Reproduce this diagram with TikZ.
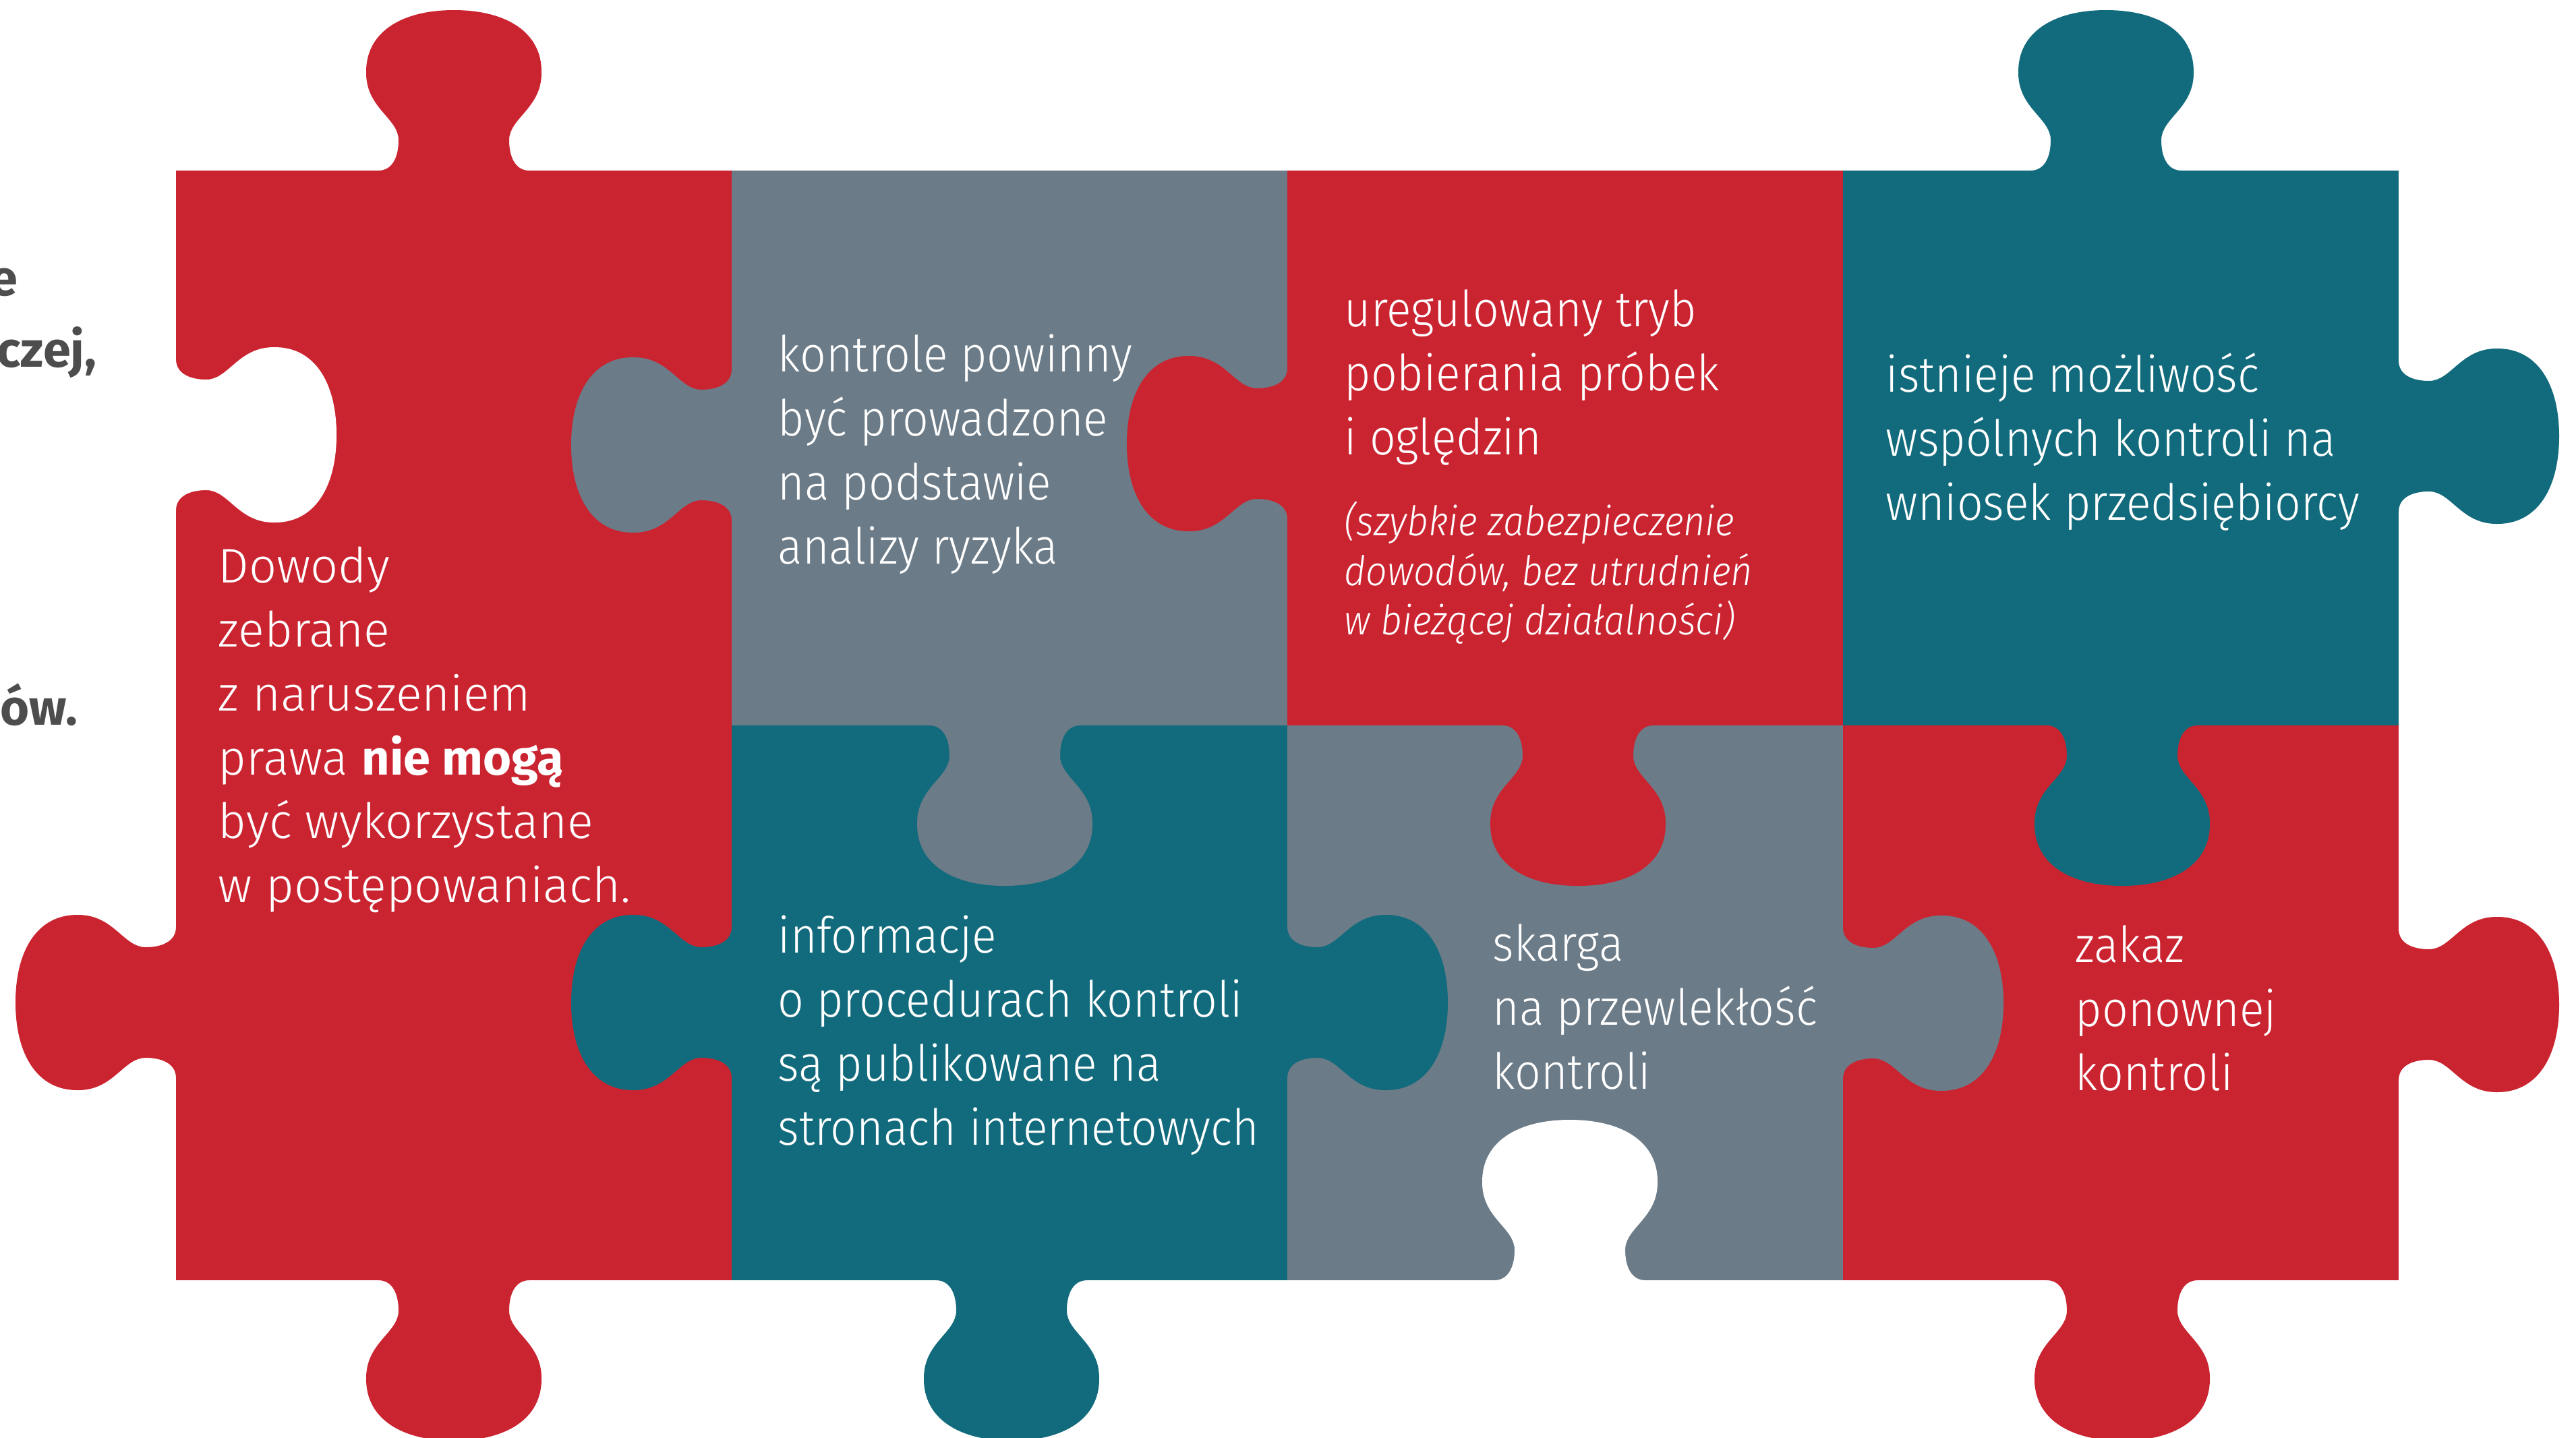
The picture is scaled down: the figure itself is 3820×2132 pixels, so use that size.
\documentclass[tikz,border=0pt]{standalone}
\usepackage{fontspec}
\setmainfont{Fira Sans}[UprightFont=* Light, ItalicFont=* Light Italic, BoldFont=* Bold]
\newfontfamily\narrowfont{Fira Sans}[UprightFont=* Light, ItalicFont=* Light Italic, FakeStretch=0.92]
\definecolor{puzred}{HTML}{CB2431}
\definecolor{puzgray}{HTML}{6B7B87}
\definecolor{puzteal}{HTML}{126B7C}
\definecolor{fragtext}{HTML}{4D4D4D}
\tikzset{
  knob/.pic={
    \fill (-112,4) -- (-112,0) .. controls (-90,0) and (-82,-22) .. (-82,-45)
      .. controls (-82,-78) and (-130,-92) .. (-130,-145)
      .. controls (-131,-205) and (-78,-238) .. (0,-238)
      .. controls (78,-238) and (131,-205) .. (130,-145)
      .. controls (130,-92) and (82,-78) .. (82,-45)
      .. controls (82,-22) and (90,0) .. (112,0) -- (112,4) -- cycle;
  },
  piecetext/.style={anchor=north west, inner sep=0pt, align=left, text=white,
    font=\narrowfont\fontsize{21}{27}\selectfont},
  notetext/.style={piecetext, font=\narrowfont\itshape\fontsize{17.2}{20.8}\selectfont},
  fragment/.style={anchor=base east, inner sep=0pt, text=fragtext,
    font=\bfseries\fontsize{21}{27}\selectfont}
}
\begin{document}
\begin{tikzpicture}[x=0.01cm, y=-0.01cm]
	\useasboundingbox (0,0) rectangle (3820,2132);
	% pieces
	\fill[puzred]  (261,253)  rectangle (1085,1899);
	\fill[puzgray] (1085,253) rectangle (1909,1076);
	\fill[puzred]  (1909,253) rectangle (2733,1076);
	\fill[puzteal] (2733,253) rectangle (3557,1076);
	\fill[puzteal] (1085,1076) rectangle (1909,1899);
	\fill[puzgray] (1909,1076) rectangle (2733,1899);
	\fill[puzred]  (2733,1076) rectangle (3557,1899);
	% knobs
	\pic[fill=puzred]               at (673,253)   {knob};
	\pic[fill=puzteal]              at (3123,253)  {knob};
	\pic[fill=puzred,  rotate=90]   at (261,1487)  {knob};
	\pic[fill=puzgray, rotate=90]   at (1085,660)  {knob};
	\pic[fill=puzteal, rotate=90]   at (1085,1487) {knob};
	\pic[fill=puzred,  rotate=90]   at (1909,658)  {knob};
	\pic[fill=puzteal, rotate=-90]  at (3557,647)  {knob};
	\pic[fill=puzred,  rotate=-90]  at (3557,1490) {knob};
	\pic[fill=puzteal, rotate=-90]  at (1909,1487) {knob};
	\pic[fill=puzgray, rotate=-90]  at (2733,1488) {knob};
	\pic[fill=puzgray, rotate=180]  at (1490,1076) {knob};
	\pic[fill=puzred,  rotate=180]  at (2340,1076) {knob};
	\pic[fill=puzteal, rotate=180]  at (3147,1076) {knob};
	\pic[fill=puzred,  rotate=180]  at (673,1899)  {knob};
	\pic[fill=puzteal, rotate=180]  at (1500,1899) {knob};
	\pic[fill=puzred,  rotate=180]  at (3147,1899) {knob};
	% holes
	\pic[fill=white, rotate=-90]    at (261,645)   {knob};
	\pic[fill=white]                at (2328,1899) {knob};
	% texts
	\node[piecetext, font=\fontsize{20.5}{27}\selectfont] (evidence) at (323,797)
		{\strut Dowody\\zebrane\\z naruszeniem\\prawa \textbf{nie mogą}\\być wykorzystane\\w postępowaniach.};
	\node[piecetext] (riskanalysis) at (1153,484)
		{\strut kontrole powinny\\być prowadzone\\na podstawie\\analizy ryzyka};
	\node[piecetext] (sampling) at (1993,417)
		{\strut uregulowany tryb\\pobierania próbek\\i oględzin};
	\node[notetext] (samplingnote) at (1993,743)
		{\strut (szybkie zabezpieczenie\\dowodów, bez utrudnień\\w bieżącej działalności)};
	\node[piecetext] (jointcontrol) at (2796,514)
		{\strut istnieje możliwość\\wspólnych kontroli na\\wniosek przedsiębiorcy};
	\node[piecetext] (procedures) at (1153,1346)
		{\strut informacje\\o procedurach kontroli\\są publikowane na\\stronach internetowych};
	\node[piecetext] (complaint) at (2213,1358)
		{\strut skarga\\na przewlekłość\\kontroli};
	\node[piecetext] (repeatban) at (3077,1360)
		{\strut zakaz\\ponownej\\kontroli};
	% cut text on the left
	\node[fragment] (fragE)    at (27,438)   {e};
	\node[fragment] (fragCzej) at (144,544)  {czej,};
	\node[fragment] (fragOw)   at (116,1075) {ów.};
\end{tikzpicture}
\end{document}
